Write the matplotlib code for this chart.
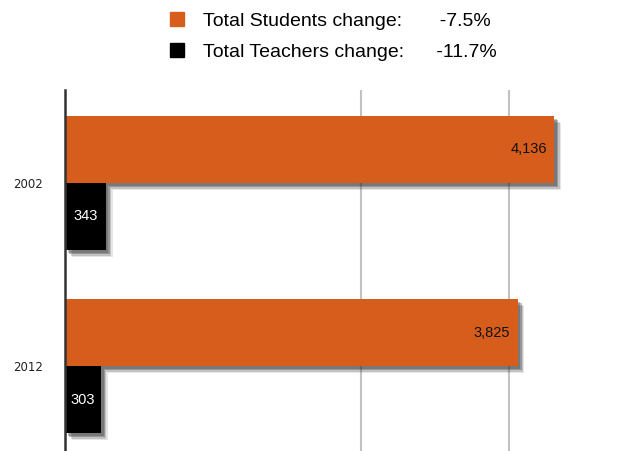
import matplotlib.pyplot as plt
import matplotlib.patheffects as pe
from matplotlib.patches import Rectangle

# data
years = ["2002", "2012"]
students = [4136, 3825]
teachers = [343, 303]
student_labels = ["4,136", "3,825"]
teacher_labels = ["343", "303"]

ORANGE = "#D65D1B"
W, H = 642, 451

fig = plt.figure(figsize=(W / 100, H / 100), dpi=100)
ax = fig.add_axes([65 / W, 0, 1 - 65 / W, (H - 90) / H])

# soft drop shadow, a few stacked offsets
shadow = [pe.SimplePatchShadow(offset=(o, -o), shadow_rgbFace="#333333", alpha=a)
          for o, a in [(5, 0.12), (4, 0.2), (3, 0.3), (2, 0.3)]] + [pe.Normal()]

pos = list(range(len(years)))
h = 0.366
sb = ax.barh([p - h / 2 for p in pos], students, height=h, color=ORANGE, zorder=3)
tb = ax.barh([p + h / 2 for p in pos], teachers, height=h, color="black", zorder=3)
for b in list(sb) + list(tb):
    b.set_path_effects(shadow)

for p, v, lab in zip(pos, students, student_labels):
    ax.text(v - 65, p - h / 2, lab, ha="right", va="center", fontsize=10.5,
            color="#111111", family="Liberation Sans", zorder=5)
for p, v, lab in zip(pos, teachers, teacher_labels):
    ax.text(v / 2, p + h / 2, lab, ha="center", va="center", fontsize=10.5,
            color="white", family="Liberation Sans", zorder=5)

ax.set_xlim(0, 4877)
ax.set_ylim(1.464, -0.508)
ax.set_yticks(pos)
ax.set_yticklabels(years, fontsize=8.5, color="#222222")
ax.tick_params(axis="y", length=0, pad=16)
ax.set_xticks([2500, 3750])
ax.tick_params(axis="x", length=0, labelbottom=False)
ax.grid(axis="x", color="#c2c2c2", linewidth=1.5, zorder=0)
for s in ["top", "right", "bottom"]:
    ax.spines[s].set_visible(False)
ax.spines["left"].set_color("#333333")
ax.spines["left"].set_linewidth(1.8)
ax.spines["left"].set_zorder(4)

# legend with change values
s_chg = (students[1] - students[0]) / students[0] * 100
t_chg = (teachers[1] - teachers[0]) / teachers[0] * 100
handles = [Rectangle((0, 0), 1, 1, color=ORANGE), Rectangle((0, 0), 1, 1, color="black")]
labels = [f"Total Students change:       {s_chg:.1f}%",
          f"Total Teachers change:      {t_chg:.1f}%"]
fig.legend(handles, labels, loc="upper left", bbox_to_anchor=(170 / W, 1 - 12 / H),
           frameon=False, handlelength=0.72, handleheight=0.72,
           handletextpad=0.97, labelspacing=0.68, borderpad=0, borderaxespad=0,
           prop={"family": "Liberation Sans", "size": 14})

fig.savefig("out.png", dpi=100)
